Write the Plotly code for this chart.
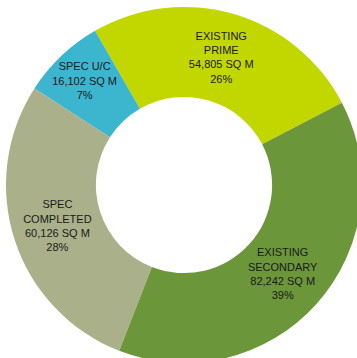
import plotly.graph_objects as go

labels = ["EXISTING<br>PRIME", "SPEC U/C", "SPEC<br>COMPLETED", "EXISTING<br>SECONDARY"]
values = [54805, 16102, 60126, 82242]
pct_labels = ["26%", "7%", "28%", "39%"]
colors = ["#C2D600", "#3BB6CE", "#AAB08A", "#6C963A"]

W, H = 368, 370
fig = go.Figure(go.Pie(
    labels=labels,
    values=values,
    customdata=pct_labels,
    texttemplate="%{label}<br>%{value:,} SQ M<br>%{customdata}",
    textposition="inside",
    insidetextorientation="horizontal",
    marker=dict(colors=colors, line=dict(width=0)),
    hole=0.495,
    sort=False,
    direction="counterclockwise",
    rotation=-30,
    domain=dict(x=[6 / W, 362 / W], y=[7 / H, 363 / H]),
    textfont=dict(family="Liberation Sans, Arial, sans-serif", size=11, color="#1a1a1a"),
    hoverinfo="skip",
    showlegend=False,
))
fig.update_layout(
    width=W, height=H,
    margin=dict(l=0, r=0, t=0, b=0),
    paper_bgcolor="white",
    plot_bgcolor="white",
    uniformtext=dict(minsize=11, mode="show"),
)
fig.write_html("out.html", config={"displayModeBar": False},
               post_script="document.body.style.margin='0';document.body.style.overflow='hidden';")
